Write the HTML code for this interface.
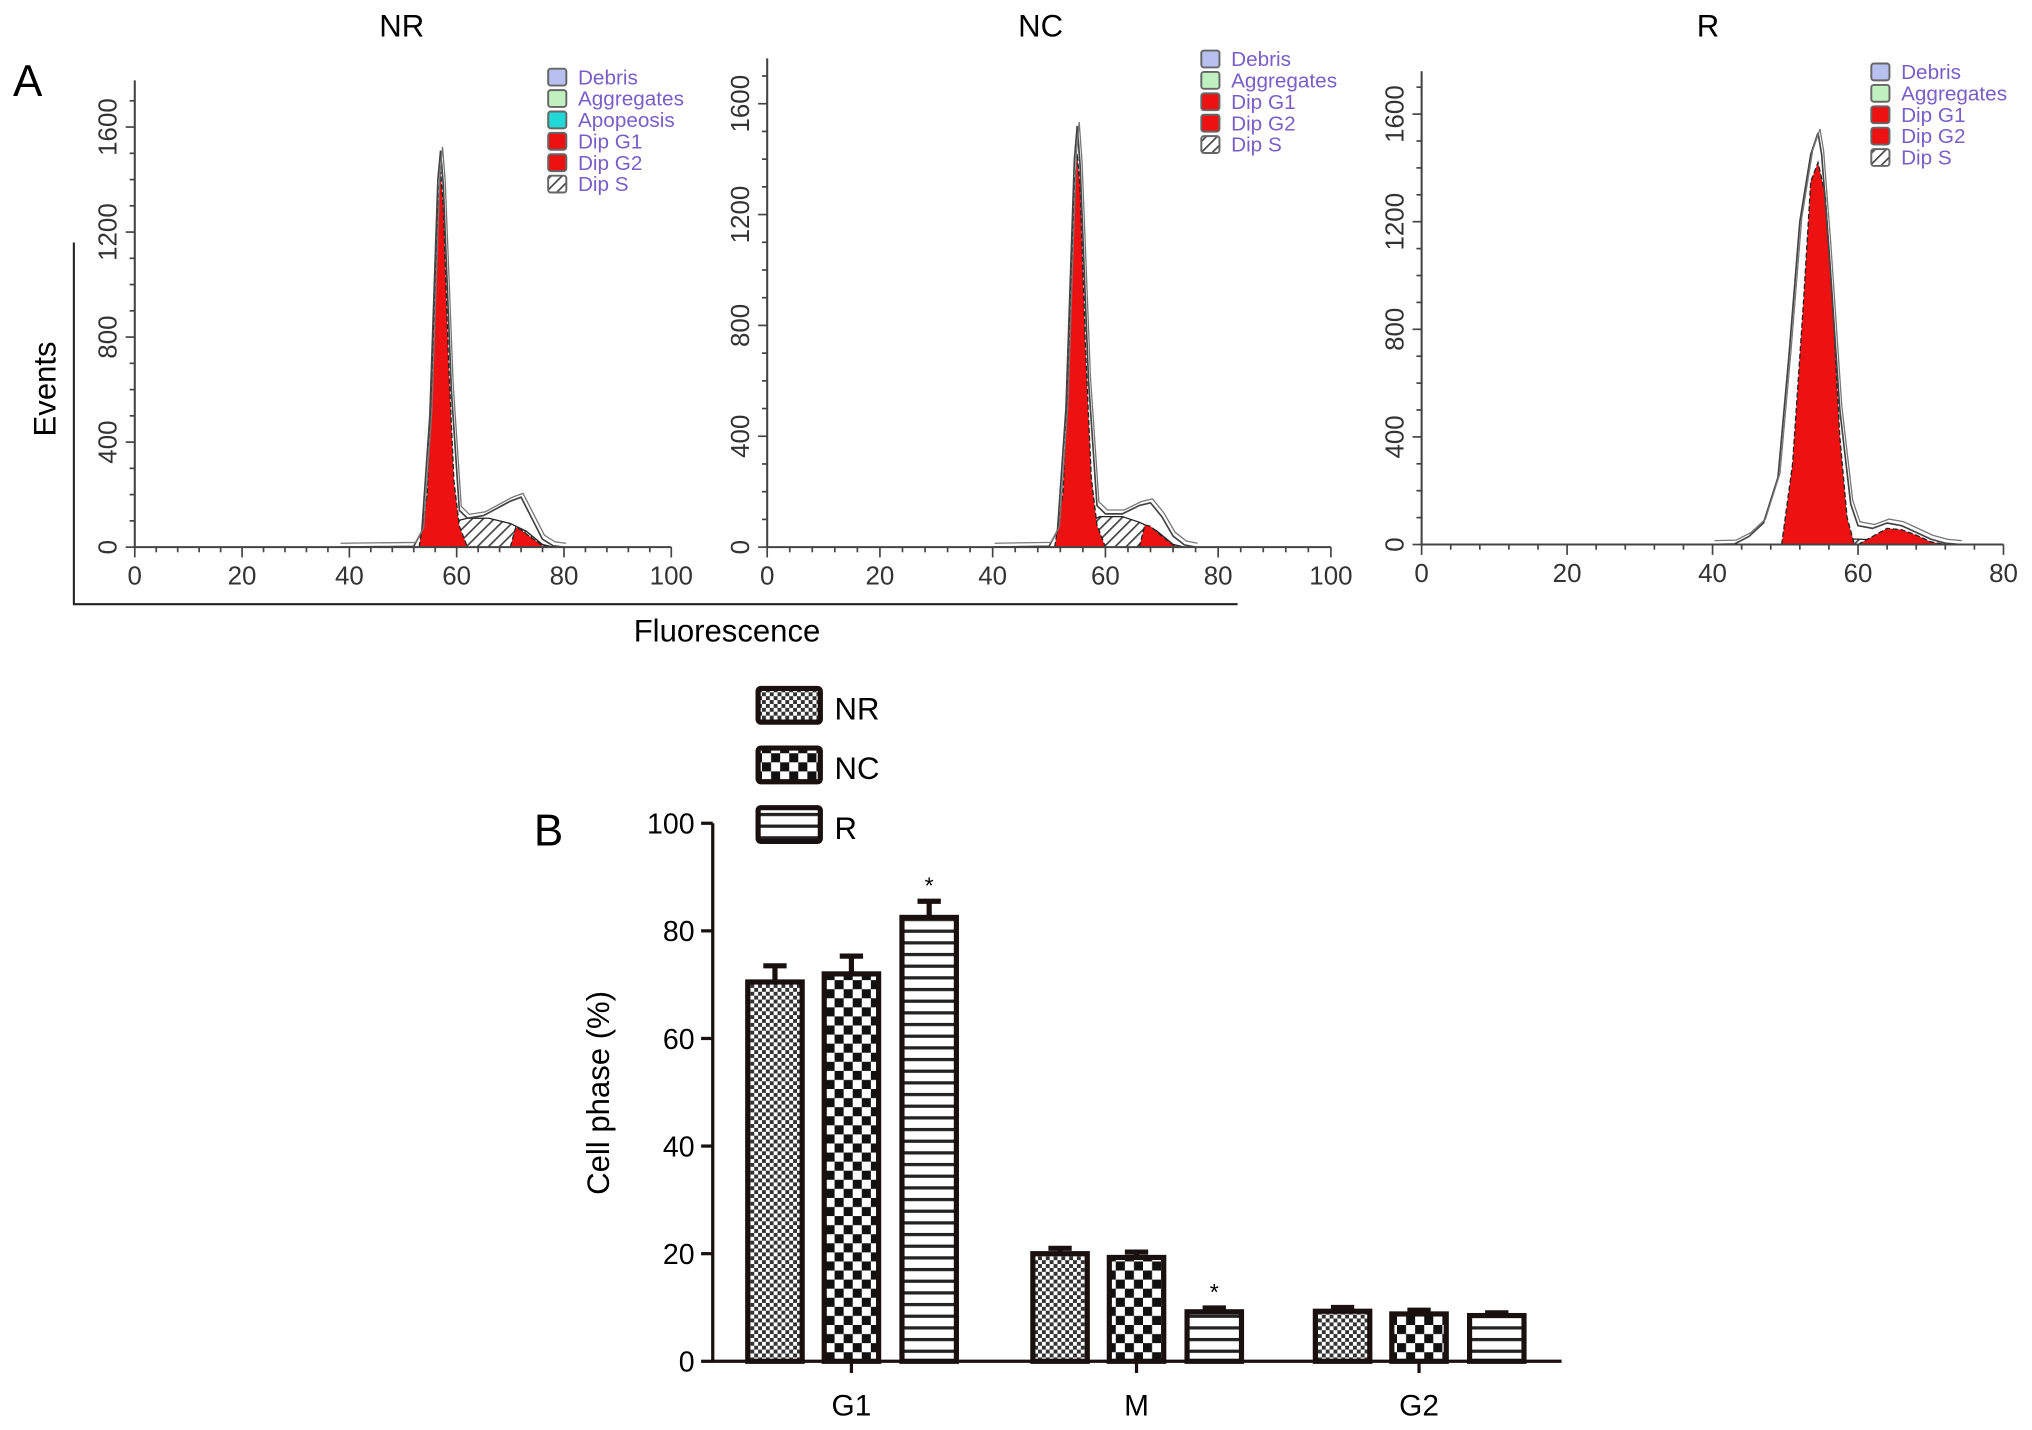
<!DOCTYPE html>
<html><head><meta charset="utf-8"><style>
html,body{margin:0;padding:0;background:#fff;}
svg{display:block;font-family:"Liberation Sans",Arial,sans-serif;}
</style></head><body>
<svg id="fig" width="2032" height="1430" viewBox="0 0 1568 1103" preserveAspectRatio="none" xmlns="http://www.w3.org/2000/svg">
<defs>
<pattern id="pNR" width="6" height="6" patternUnits="userSpaceOnUse"><rect width="6" height="6" fill="#fff"/><rect width="3" height="3" fill="#333"/><rect x="3" y="3" width="3" height="3" fill="#333"/></pattern>
<pattern id="pNC" width="14" height="14" patternUnits="userSpaceOnUse"><rect width="14" height="14" fill="#fff"/><rect width="7" height="7" fill="#111"/><rect x="7" y="7" width="7" height="7" fill="#111"/></pattern>
<pattern id="pR" width="8" height="9" patternUnits="userSpaceOnUse"><rect width="8" height="9" fill="#fff"/><rect y="6" width="8" height="2.5" fill="#222"/></pattern>
<pattern id="pS" width="6" height="6" patternUnits="userSpaceOnUse" patternTransform="rotate(45)"><rect width="6" height="6" fill="#fff"/><rect width="1.3" height="6" fill="#444"/></pattern>
</defs>
<g id="panelA"></g>
<g id="panelB"></g>
</svg>
<script>
// ---------- Panel A data ----------
const panelTitles = ["NR","NC","R"];
const yTicksA = [0,400,800,1200,1600];
const xTicksA100 = [0,20,40,60,80,100];
const xTicksA80 = [0,20,40,60,80];
// NR
const nrOutlineX = [38,52,53.5,55,56.5,57,57.5,59,60.5,62,65,70,72,74,76,78,80];
const nrOutlineY = [0,3,60,500,1400,1510,1380,600,140,110,120,175,190,110,30,5,0];
const nrG1X = [53,54.5,55.5,56.5,57,57.5,58.5,59.5,60.5,62];
const nrG1Y = [0,200,700,1300,1430,1300,700,250,80,0];
const nrSX = [56,60,62,66,70,73,76,78];
const nrSY = [0,100,110,110,90,60,10,0];
const nrG2X = [70,71,72,74,76,77];
const nrG2Y = [0,75,65,35,5,0];
// NC
const ncOutlineX = [40,50,51.5,53,54.5,55,55.5,57,58.5,60,63,66,68,70,72,74,76];
const ncOutlineY = [0,3,60,500,1400,1520,1380,600,150,120,120,150,160,110,40,8,0];
const ncG1X = [51,52.5,53.5,54.5,55,55.5,56.5,57.5,58.5,60];
const ncG1Y = [0,200,700,1300,1420,1300,700,250,80,0];
const ncSX = [54,57,59,63,66,69,72,74];
const ncSY = [0,90,110,110,90,60,10,0];
const ncG2X = [66,67,68,70,72,73];
const ncG2Y = [0,80,75,40,8,0];
// R
const rOutlineX = [40,43,45,47,49,50.5,52,53.5,54.5,55,56,57.5,59,60,62,64,66,68,70,72,74];
const rOutlineY = [0,2,30,80,250,700,1200,1450,1530,1450,1100,500,150,70,60,80,70,45,20,5,0];
const rG1X = [49.5,51,52.5,53.5,54.5,55.5,56.5,57.5,58.5,59.5];
const rG1Y = [0,300,900,1350,1420,1300,900,400,100,0];
const rSX = [54,56,60,64,68];
const rSY = [0,20,20,15,0];
const rG2X = [60,62,64,66,68,70,72];
const rG2Y = [0,30,60,55,35,10,0];
const legendNR = ["Debris","Aggregates","Apopeosis","Dip G1","Dip G2","Dip S"];
const legendNC = ["Debris","Aggregates","Dip G1","Dip G2","Dip S"];
const legendColors = {"Debris":"#b8c0f0","Aggregates":"#c0f0c0","Apopeosis":"#20d8d8","Dip G1":"#ee1111","Dip G2":"#ee1111","Dip S":"url(#pS)"};

// ---------- Panel B data ----------
const phases = ["G1","M","G2"];
const groups = ["NR","NC","R"];
const nrValues = [70.5,20.0,9.3];
const ncValues = [72.0,19.3,8.8];
const rValues = [82.5,9.2,8.5];
const nrErr = [3.0,1.0,0.7];
const ncErr = [3.3,1.0,0.7];
const rErr = [3.0,0.7,0.5];
// significance per group (rows) per phase (columns)
const sigMarks = [[false,false,false],[false,false,false],[true,true,false]];
const yTicksB = [0,20,40,60,80,100];

const NS="http://www.w3.org/2000/svg";
function mk(tag,attrs,parent,text){const e=document.createElementNS(NS,tag);for(const k in attrs)e.setAttribute(k,attrs[k]);if(text!==undefined)e.textContent=text;parent.appendChild(e);return e;}

const A=document.getElementById('panelA');
const letterA=mk('text',{x:10,y:74,'font-size':34},A,'A');


const ev=mk('text',{transform:'translate(43,300) rotate(-90)','text-anchor':'middle','font-size':24},A,'Events');


const fl=mk('text',{x:561,y:495,'text-anchor':'middle','font-size':24},A,'Fluorescence');


const br=mk('path',{d:'M57,187 V466 H955',fill:'none',stroke:'#222','stroke-width':1.6},A);



const panels=[
 {name:'nr',title:'NR',tx:310,x0:104,x1:518,xmax:100,y0:422,y1600:98,top:62,xt:xTicksA100,ox:nrOutlineX,oy:nrOutlineY,gx:nrG1X,gy:nrG1Y,sx:nrSX,sy:nrSY,g2x:nrG2X,g2y:nrG2Y,leg:legendNR,lx:423,ly:53},
 {name:'nc',title:'NC',tx:803,x0:592,x1:1027,xmax:100,y0:422,y1600:80,top:45,xt:xTicksA100,ox:ncOutlineX,oy:ncOutlineY,gx:ncG1X,gy:ncG1Y,sx:ncSX,sy:ncSY,g2x:ncG2X,g2y:ncG2Y,leg:legendNC,lx:927,ly:39},
 {name:'r',title:'R',tx:1318,x0:1097,x1:1546,xmax:80,y0:420,y1600:88,top:55,xt:xTicksA80,ox:rOutlineX,oy:rOutlineY,gx:rG1X,gy:rG1Y,sx:rSX,sy:rSY,g2x:rG2X,g2y:rG2Y,leg:legendNC,lx:1444,ly:49}
];
panels.forEach(p=>{
 const g=mk('g',{},A);
 
 
 const X=v=>p.x0+(p.x1-p.x0)*v/p.xmax;
 const Y=v=>p.y0-(p.y0-p.y1600)*v/1600;
 const t=mk('text',{x:p.tx,y:28,'text-anchor':'middle','font-size':24},g,p.title);
 
 
 const area=(xs,ys,fill,nm)=>{let d='M'+X(xs[0])+','+Y(0);xs.forEach((x,i)=>d+=' L'+X(x)+','+Y(ys[i]));d+=' L'+X(xs[xs.length-1])+','+Y(0)+'Z';
  const e=mk('path',{d:d,fill:fill,stroke:'#222','stroke-width':1,'stroke-dasharray':fill.startsWith('#e')?'4,2':'none'},g);
  
  };
 area(p.sx,p.sy,'url(#pS)','dip-s-area');
 area(p.g2x,p.g2y,'#ee1111','dip-g2-area');
 area(p.gx,p.gy,'#ee1111','dip-g1-area');
 let d='';p.ox.forEach((x,i)=>d+=(i?' L':'M')+X(x)+','+Y(p.oy[i]));
 const o=mk('path',{d:d,fill:'none',stroke:'#444','stroke-width':1.3},g);
 
 
 const o2=mk('path',{d:d,fill:'none',stroke:'#777','stroke-width':1,transform:'translate(1.5,-3)'},g);
 
 
 const ax=mk('path',{d:`M${p.x0},${p.top} V${p.y0} H${p.x1}`,fill:'none',stroke:'#444','stroke-width':1.6},g);
 
 
 for(let v=0;v<=1750;v+=100){const yy=Y(v);if(yy<p.top)break;mk('line',{x1:p.x0-(v%400?4:7),x2:p.x0,y1:yy,y2:yy,stroke:'#444','stroke-width':1.3},g);}
 for(let v=0;v<=p.xmax;v+=4){mk('line',{x1:X(v),x2:X(v),y1:p.y0,y2:p.y0+(v%20?4:8),stroke:'#444','stroke-width':1.3},g);}
 yTicksA.forEach(v=>{const l=mk('text',{transform:`translate(${p.x0-14},${Y(v)}) rotate(-90)`,'text-anchor':'middle','font-size':20,fill:'#333'},g,String(v));
  
  });
 p.xt.forEach(v=>{const l=mk('text',{x:X(v),y:p.y0+29,'text-anchor':'middle','font-size':20,fill:'#333'},g,String(v));
  
  });
 p.leg.forEach((n,i)=>{const yy=p.ly+i*16.5;
  const le=mk('g',{},g);
  
  
  mk('rect',{x:p.lx,y:yy,width:14,height:13,fill:legendColors[n],stroke:'#666','stroke-width':1.5,rx:2},le);
  mk('text',{x:p.lx+23,y:yy+12,'font-size':16,fill:'#7a5ec8'},le,n);});
});

// ---------- Panel B ----------
const B=document.getElementById('panelB');
const bx0=550,bx1=1205,by0=1050,by100=635;
const YB=v=>by0-(by0-by100)*v/100;
const centers=[657,877,1095];
const offs=[-59,0,60];const bw=42;
const pats=['url(#pNR)','url(#pNC)','url(#pR)'];
const vals=[nrValues,ncValues,rValues];const errs=[nrErr,ncErr,rErr];
const lb=mk('text',{x:412,y:652,'font-size':34},B,'B');


const yt=mk('text',{transform:'translate(470,843) rotate(-90)','text-anchor':'middle','font-size':24},B,'Cell phase (%)');


phases.forEach((ph,pi)=>{groups.forEach((gname,gi)=>{
 const v=vals[gi][pi],e=errs[gi][pi];const cx=centers[pi]+offs[gi];
 const bar=mk('rect',{x:cx-bw/2,y:YB(v),width:bw,height:by0-YB(v),fill:pats[gi],stroke:'#1a1010','stroke-width':4},B);
 
 
 const eb=mk('path',{d:`M${cx},${YB(v)} V${YB(v+e)} M${cx-9},${YB(v+e)} H${cx+9}`,stroke:'#1a1010','stroke-width':4,fill:'none'},B);
 
 
 if(sigMarks[gi][pi]){const s=mk('text',{x:cx,y:YB(v+e)-6,'text-anchor':'middle','font-size':18},B,'*');
  
  }
});
 mk('line',{x1:centers[pi],x2:centers[pi],y1:by0,y2:by0+9,stroke:'#1a1010','stroke-width':2.5},B);
 const l=mk('text',{x:centers[pi],y:by0+42,'text-anchor':'middle','font-size':23},B,ph);
 
 
});
const axB=mk('path',{d:`M${bx0},${by100} V${by0} H${bx1}`,fill:'none',stroke:'#1a1010','stroke-width':2.5},B);


yTicksB.forEach(v=>{mk('line',{x1:bx0-9,x2:bx0,y1:YB(v),y2:YB(v),stroke:'#1a1010','stroke-width':2.5},B);
 const l=mk('text',{x:bx0-14,y:YB(v)+8,'text-anchor':'end','font-size':22},B,String(v));
 
 });
groups.forEach((gname,gi)=>{const yy=531+gi*46;
 const le=mk('g',{},B);
 
 
 mk('rect',{x:585,y:yy,width:48,height:26,fill:pats[gi],stroke:'#1a1010','stroke-width':4,rx:2},le);
 mk('text',{x:644,y:yy+24,'font-size':24},le,gname);});
</script>
</body></html>
